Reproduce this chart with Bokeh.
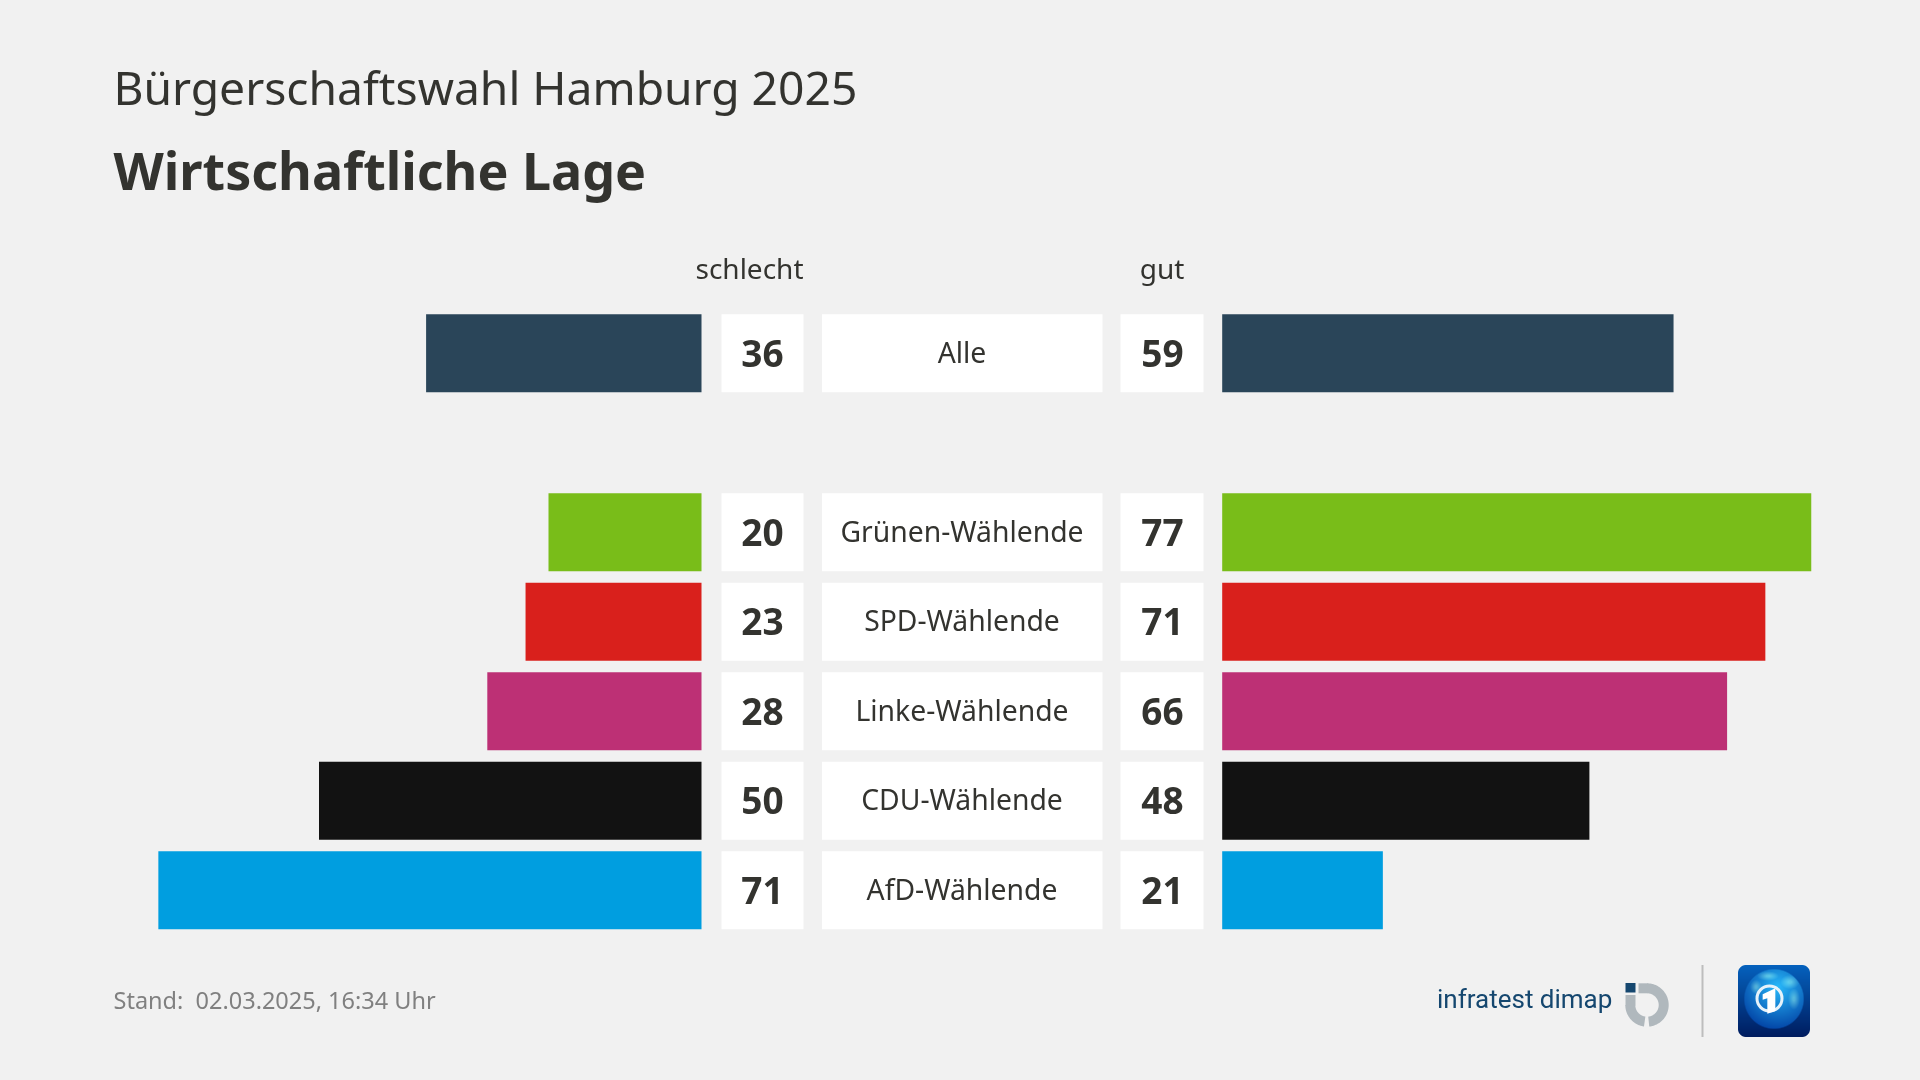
import numpy as np
from bokeh.plotting import figure
from bokeh.models import Range1d, ColumnDataSource
from bokeh.core.properties import value
from bokeh.embed import file_html
from bokeh.resources import INLINE

# ---- data ----
groups = ["Alle", "Grünen-Wählende", "SPD-Wählende", "Linke-Wählende", "CDU-Wählende", "AfD-Wählende"]
schlecht = [36, 20, 23, 28, 50, 71]
gut = [59, 77, 71, 66, 48, 21]
colors = ["#2a4559", "#79bd19", "#d9201c", "#bd3075", "#121212", "#009ee0"]
subtitle = "Bürgerschaftswahl Hamburg 2025"
title = "Wirtschaftliche Lage"
head_left = "schlecht"
head_right = "gut"
footer = "Stand:\u00a0 02.03.2025, 16:34 Uhr"

# ---- layout ----
W, H = 1921, 1081
BG = "#f1f1f1"
INK = "#33332f"
FONT = "Noto Sans"
row_slot = [0, 2, 3, 4, 5, 6]
row_c, row_p, bar_h = 353.7, 89.5, 0.872
px_per_pt = 7.65
zero_l, zero_r = 702.0, 1222.7

p = figure(width=W, height=H, output_backend="svg", toolbar_location=None,
           x_range=Range1d(0, W), y_range=Range1d(H, 0), min_border=0,
           background_fill_color=BG, border_fill_color=BG, outline_line_color=None,
           x_axis_location=None, y_axis_location=None)
p.styles = {"position": "fixed", "left": "-1px", "top": "-1px"}
p.grid.visible = False
p.extra_x_ranges = {
    "bad": Range1d(zero_l / px_per_pt, (zero_l - W) / px_per_pt),
    "good": Range1d(-zero_r / px_per_pt, (W - zero_r) / px_per_pt),
}
p.extra_y_ranges = {"rows": Range1d((H - row_c) / row_p, -row_c / row_p)}

src = ColumnDataSource(dict(slot=row_slot, group=groups, bad=schlecht, good=gut, color=colors,
                            bad_t=[str(v) for v in schlecht], good_t=[str(v) for v in gut]))

p.hbar(y="slot", left=0, right="bad", height=bar_h, fill_color="color", line_color=None, source=src,
       x_range_name="bad", y_range_name="rows")
p.hbar(y="slot", left=0, right="good", height=bar_h, fill_color="color", line_color=None, source=src,
       x_range_name="good", y_range_name="rows")
for x0, x1 in [(722, 804), (822.5, 1103), (1121, 1204)]:
    p.hbar(y="slot", left=x0, right=x1, height=bar_h, fill_color="#ffffff", line_color=None, source=src,
           y_range_name="rows")

def col_text(col, x, size, style, dy=0):
    p.text(x=x, y="slot", text=col, source=src, y_range_name="rows", text_font=value(FONT),
           text_font_size=size, text_font_style=style, text_color=INK, y_offset=dy,
           text_align="center", text_baseline="middle")

col_text("bad_t", 763, "37px", "bold")
col_text("good_t", 1163, "37px", "bold")
col_text("group", 962.5, "28.3px", "normal", -1.5)

def label(x, y, txt, size, style="normal", color=INK, align="left", font=FONT):
    px = float(size[:-2])
    p.text(x=[x], y=[y - 0.39 * px], text=[txt], text_font=value(font), text_font_size=size,
           text_font_style=style, text_color=color, text_align=align, text_baseline="alphabetic")

label(114, 106, subtitle, "46.2px")
label(114, 190, title, "52px", "bold")
label(804, 279.5, head_left, "28px", align="right")
label(1162.5, 279.5, head_right, "28px", align="center")
label(114, 1009.5, footer, "23.5px", color="#808080")

# ---- logos ----
label(1437.5, 1010, "infratest dimap", "26px", "normal", "#15476f", font="Roboto")

def arc(cx, cy, r0, r1, a0, a1, color):
    t = np.radians(np.linspace(a0, a1, 60))
    xs = np.r_[cx + r1 * np.cos(t), cx + r0 * np.cos(t[::-1])]
    ys = np.r_[cy + r1 * np.sin(t), cy + r0 * np.sin(t[::-1])]
    p.patch(xs, ys, fill_color=color, line_color=None)

cx, cy = 1647.5, 1005.5
GREY = "#b0b8bd"
arc(cx, cy, 11.7, 21.7, -90, 84, GREY)
arc(cx, cy, 11.7, 21.7, 98, 180, GREY)
p.quad(left=[1639], right=[1648], top=[983.8], bottom=[993.8], fill_color=GREY, line_color=None)
p.quad(left=[1626], right=[1636], top=[995.5], bottom=[1006], fill_color=GREY, line_color=None)
p.quad(left=[1626], right=[1636], top=[983.5], bottom=[993], fill_color="#15476f", line_color=None)
p.quad(left=[1702], right=[1704], top=[965.5], bottom=[1037.5], fill_color="#bdbdbd", line_color=None)

# app icon as an RGBA image
n = 72
yy, xx = np.mgrid[0:n, 0:n] + 0.5
rgba = np.zeros((n, n, 4), dtype=np.uint8)
v = 1 - yy / n
base = np.stack([0 + 5 * v, 28 + 70 * v, 95 + 95 * v], -1)
d = np.hypot(xx - 36, yy - 34)
glob = np.clip((30.5 - d) / 1.5, 0, 1)[..., None]
gl = 1 - np.clip(np.hypot(xx - 40, yy - 22) / 46, 0, 1)
gcol = np.stack([0 + 40 * gl, 60 + 125 * gl, 160 + 90 * gl], -1)
land = np.zeros((n, n))
for ex, ey, erx, ery in [(30, 11, 9, 4), (52, 17, 8, 6), (56, 34, 5, 9), (18, 22, 5, 6)]:
    land = np.maximum(land, np.clip(1.2 - np.hypot((xx - ex) / erx, (yy - ey) / ery), 0, 1))
gcol = gcol + land[..., None] * np.array([60, 50, 10])
col = np.clip(base * (1 - glob) + gcol * glob, 0, 255)
rx = np.maximum(np.abs(xx - 36) - 28, 0)
ry = np.maximum(np.abs(yy - 36) - 28, 0)
alpha = np.clip(8.5 - np.hypot(rx, ry), 0, 1)
rgba[..., :3] = col.astype(np.uint8)
rgba[..., 3] = (alpha * 255).astype(np.uint8)
icon = rgba.view(np.uint32).reshape(n, n)
p.image_rgba(image=[icon], x=1738.5, y=965.5, dw=72, dh=72)
p.circle(x=[1770], y=[999], radius=12.5, fill_color=None, line_color="#e6f2fa", line_width=3)
ox, oy = 1730.5, 955.5
one_x = [136, 136, 112, 112, 98, 98]
one_y = [100, 168, 176, 130, 134, 118]
p.patch([ox + a / 3 for a in one_x], [oy + b / 3 for b in one_y], fill_color="#ffffff", line_color=None)

open("out.html", "w").write(file_html(p, INLINE))
